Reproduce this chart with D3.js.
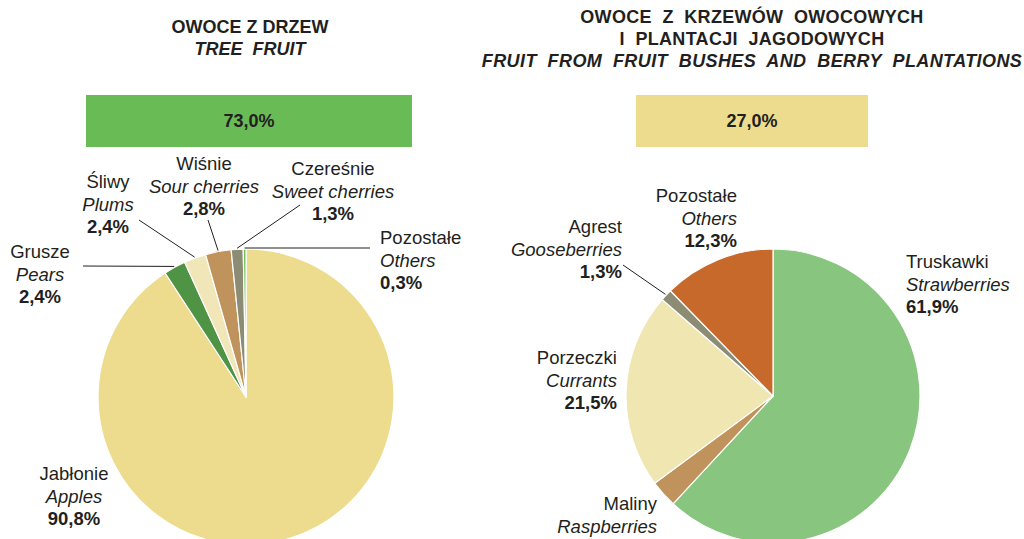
<!DOCTYPE html>
<html><head><meta charset="utf-8">
<script src="https://cdn.jsdelivr.net/npm/d3@7"></script>
<style>
html,body{margin:0;padding:0;background:#fff;}
svg{display:block;font-family:"Liberation Sans",Arial,sans-serif;}
</style></head>
<body>
<svg id="c" width="1024" height="539"></svg>
<script>
// ---- data ----
const treeNamesPL = ["Jabłonie","Grusze","Śliwy","Wiśnie","Czereśnie","Pozostałe"];
const treeNamesEN = ["Apples","Pears","Plums","Sour cherries","Sweet cherries","Others"];
const treeValues  = [90.8, 2.4, 2.4, 2.8, 1.3, 0.3];
const treeTotal   = 73.0;

const bushNamesPL = ["Truskawki","Maliny","Porzeczki","Agrest","Pozostałe"];
const bushNamesEN = ["Strawberries","Raspberries","Currants","Gooseberries","Others"];
const bushValues  = [61.9, 3.0, 21.5, 1.3, 12.3];
const bushTotal   = 27.0;

// ---- styles / layout ----
const treeColors = ["#eddc8e","#4f9345","#f1e6b8","#bf935b","#8c8c74","#6cbf5a"];
const bushColors = ["#88c57e","#bf935b","#f0e6b2","#8c8c74","#c8692c"];
const ink = "#231f20";
const fmt = v => d3.format(".1f")(v).replace(".", ",") + "%";
const LH = 22.5;
const FS = 18.5;

// label layout: [anchor, x, firstBaseline, leaderEnd or null]
const treeLabelLayout = [
  ["middle", 74, 480, null],
  ["middle", 40, 258, [83, 266]],
  ["middle", 108, 188, [139, 220]],
  ["middle", 204, 170, [208, 220]],
  ["middle", 333, 175, [300, 205]],
  ["start", 380, 244, [370, null]]
];
const bushLabelLayout = [
  ["start", 906, 268, null],
  ["end", 657, 510, null],
  ["end", 617, 364, null],
  ["end", 622, 233, [623, 265]],
  ["end", 737, 202, null]
];

const svg = d3.select("#c");

function title(x, lines) {
  const t = svg.append("text").attr("text-anchor","middle").attr("fill",ink)
    .attr("font-size",18).style("white-space","pre");
  lines.forEach(l => {
    t.append("tspan").attr("x", x).attr("y", l.y).text(l.t)
     .attr("font-weight","bold").attr("font-style", l.it ? "italic" : "normal")
     .attr("letter-spacing", l.ls || 0);
  });
}
title(250, [{t:"OWOCE Z DRZEW", y:33}, {t:"TREE  FRUIT", y:55, it:true}]);
title(752, [{t:"OWOCE  Z  KRZEWÓW  OWOCOWYCH", y:23, ls:0.3},
            {t:"I  PLANTACJI  JAGODOWYCH", y:45, ls:0.3},
            {t:"FRUIT  FROM  FRUIT  BUSHES  AND  BERRY  PLANTATIONS", y:67, it:true, ls:0.4}]);

function bar(x0, x1, color, value) {
  const xs = d3.scaleLinear().domain([0,1]).range([x0, x1]);
  svg.append("rect").attr("x", xs(0)).attr("y", 95).attr("width", xs(1)-xs(0)).attr("height", 52).attr("fill", color);
  svg.append("text").attr("x", (xs(0)+xs(1))/2).attr("y", 127).attr("text-anchor","middle")
    .attr("font-size",18).attr("font-weight","bold").attr("fill",ink).text(fmt(value));
}
bar(86, 412, "#68bb55", treeTotal);
bar(636, 868, "#eddc8e", bushTotal);

function pie(cx, cy, r, values, colors, pl, en, layout) {
  const g = svg.append("g").attr("transform", `translate(${cx},${cy})`);
  const arcs = d3.pie().sort(null).startAngle(0).endAngle(2*Math.PI)(values);
  const arc = d3.arc().innerRadius(0).outerRadius(r);
  g.selectAll("path").data(arcs).join("path")
    .attr("d", arc).attr("fill", (d,i) => colors[i])
    .attr("stroke", "#fff").attr("stroke-width", 1.2).attr("stroke-linejoin","round");
  arcs.forEach((d, i) => {
    const [anchor, lx, ly, lead] = layout[i];
    if (lead) {
      const a = (d.startAngle + d.endAngle) / 2;
      const px = cx + (r + 1) * Math.sin(a), py = cy - (r + 1) * Math.cos(a);
      const ex = lead[0], ey = lead[1] == null ? py : lead[1];
      svg.append("line").attr("x1", px).attr("y1", py).attr("x2", ex).attr("y2", ey)
        .attr("stroke", ink).attr("stroke-width", 1);
    }
    const t = svg.append("text").attr("text-anchor", anchor).attr("fill", ink).attr("font-size", FS);
    t.append("tspan").attr("x", lx).attr("y", ly).text(pl[i]);
    t.append("tspan").attr("x", lx).attr("y", ly + LH).attr("font-style","italic").text(en[i]);
    t.append("tspan").attr("x", lx).attr("y", ly + 2*LH).attr("font-weight","bold").text(fmt(values[i]));
  });
}
pie(246, 397, 148, treeValues, treeColors, treeNamesPL, treeNamesEN, treeLabelLayout);
pie(773, 396, 147, bushValues, bushColors, bushNamesPL, bushNamesEN, bushLabelLayout);
</script>
</body></html>
